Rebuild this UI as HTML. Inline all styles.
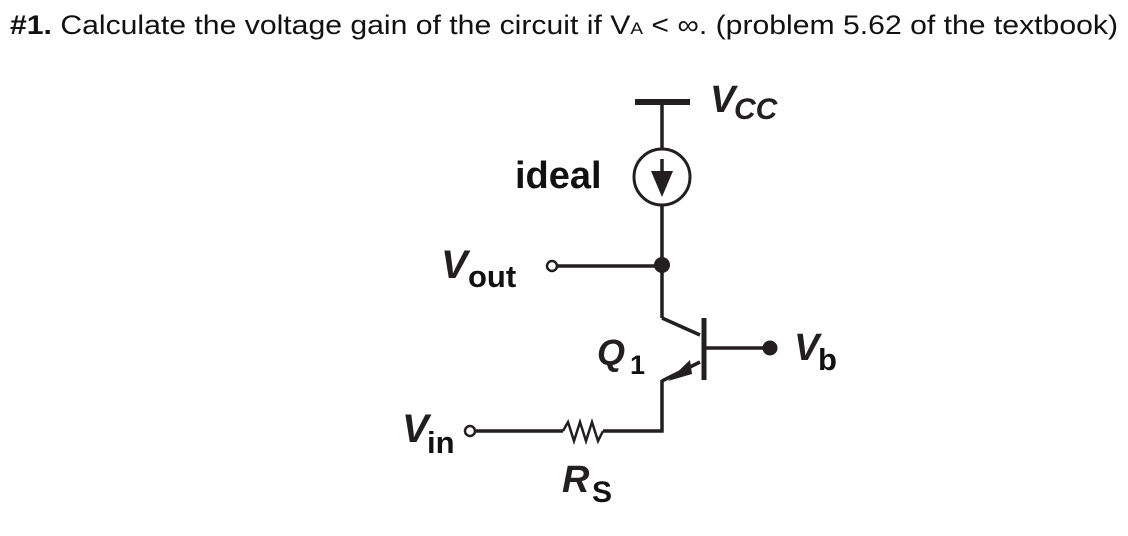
<!DOCTYPE html>
<html><head><meta charset="utf-8"><style>
html,body{margin:0;padding:0;background:#fff;}
svg{display:block;}
text{font-family:"Liberation Sans",Arial,sans-serif;fill:#111;}
.l{font-weight:bold;font-style:italic;fill:#231f20;}
</style></head><body>
<svg width="1128" height="536" viewBox="0 0 1128 536" xmlns="http://www.w3.org/2000/svg">
<text x="10" y="34" font-size="27" textLength="1108" lengthAdjust="spacingAndGlyphs"><tspan font-weight="bold">#1.</tspan> Calculate the voltage gain of the circuit if V<tspan font-size="17">A</tspan> &lt; ∞. (problem 5.62 of the textbook)</text>
<g stroke="#231f20" stroke-width="3.5" fill="none">
<line x1="635" y1="102" x2="690" y2="102" stroke-width="6"/>
<line x1="662" y1="102" x2="662" y2="149"/>
<circle cx="662" cy="177" r="28" stroke-width="3"/>
<line x1="662" y1="159" x2="662" y2="178"/>
<line x1="662" y1="206" x2="662" y2="318"/>
<line x1="558" y1="266" x2="662" y2="266"/>
<circle cx="552" cy="266" r="5" stroke-width="2.5"/>
<line x1="662" y1="318" x2="700" y2="335"/>
<line x1="704" y1="318" x2="704" y2="380" stroke-width="5"/>
<line x1="704" y1="348" x2="770" y2="348"/>
<line x1="700" y1="362" x2="662" y2="381"/>
<polyline points="662,380 662,431 603,431"/>
<polyline points="603,431 598,441 592,422 586,441 580,422 574,441 568,422 563,431" stroke-width="2.5"/>
<line x1="563" y1="431" x2="476" y2="431"/>
<circle cx="470" cy="431" r="5" stroke-width="2.5"/>
</g>
<polygon points="651,171 673,171 662,197" fill="#231f20"/>
<polygon points="668,381 690,360 692,374" fill="#231f20"/>
<circle cx="662" cy="265" r="8" fill="#231f20"/>
<circle cx="770" cy="348" r="7.5" fill="#231f20"/>
<text class="l" x="710" y="112" font-size="38">V</text>
<text class="l" x="734" y="119" font-size="30">CC</text>
<text x="515" y="188" font-size="38" font-weight="bold" fill="#231f20">ideal</text>
<text class="l" x="441" y="278" font-size="40">V</text>
<text x="468" y="287" font-size="31" font-weight="bold" fill="#231f20">out</text>
<text class="l" x="597" y="365" font-size="36">Q</text>
<text x="630" y="374" font-size="27" font-weight="bold" fill="#231f20">1</text>
<text class="l" x="794" y="360" font-size="38">V</text>
<text x="818" y="370" font-size="31" font-weight="bold" fill="#231f20">b</text>
<text class="l" x="402" y="442" font-size="40">V</text>
<text x="427" y="453" font-size="31" font-weight="bold" fill="#231f20">in</text>
<text class="l" x="562" y="492" font-size="38">R</text>
<text x="592" y="502" font-size="30" font-weight="bold" fill="#231f20">S</text>
</svg>
</body></html>
